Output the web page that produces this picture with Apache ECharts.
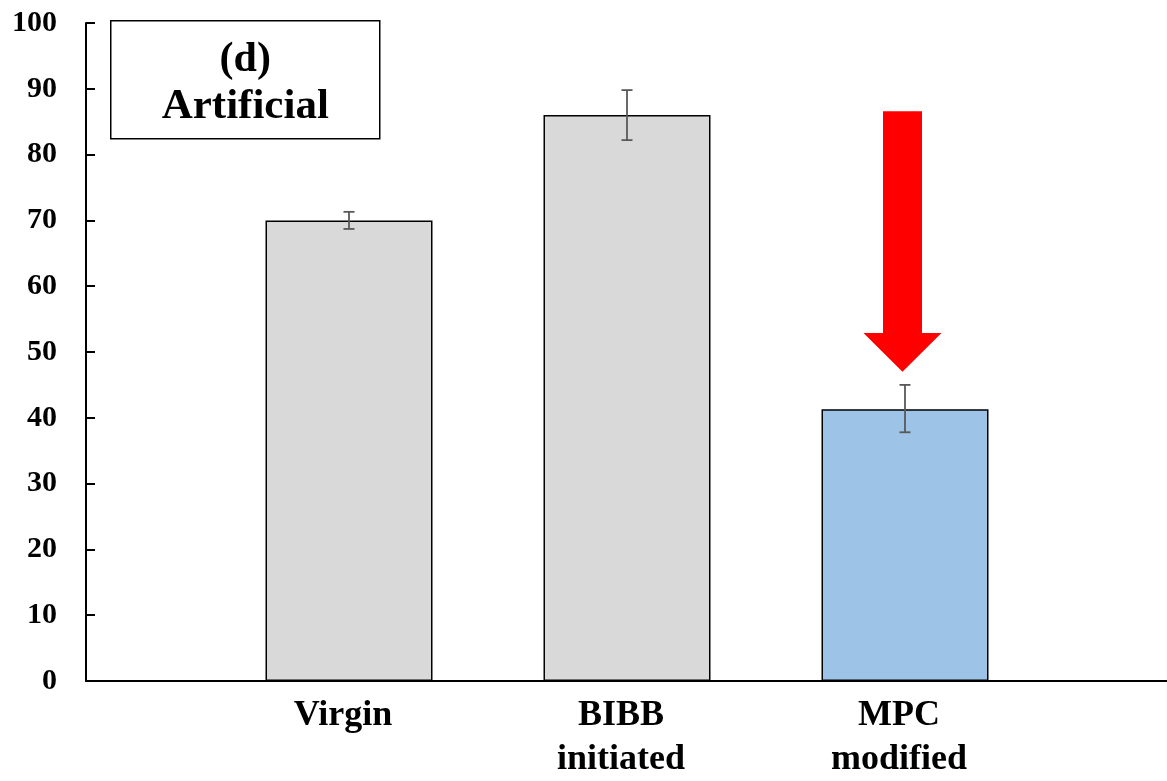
<!DOCTYPE html>
<html>
<head>
<meta charset="utf-8">
<script src="https://cdn.jsdelivr.net/npm/echarts@6/dist/echarts.min.js"></script>
<style>
  html, body { margin: 0; padding: 0; background: #fff; }
  #chart { width: 1167px; height: 781px; }
</style>
</head>
<body>
<div id="chart"></div>
<script>
// Samples and measured values (mean with upper / lower error-bar ends)
const categories = ['Virgin', 'BIBB\ninitiated', 'MPC\nmodified'];
const means = [70.0, 86.0, 41.3];
const errLow = [68.7, 82.2, 37.8];
const errHigh = [71.3, 89.8, 45.0];
const barColors = ['#d9d9d9', '#d9d9d9', '#9dc3e6'];
const yTicks = [0, 10, 20, 30, 40, 50, 60, 70, 80, 90, 100];

// Red arrow pointing down at the MPC bar: [category index, tail value, head base value, tip value]
const arrow = [[2, 86.6, 52.9, 47.0]];

const FONT = "'Liberation Serif', 'Times New Roman', serif";

const chart = echarts.init(document.getElementById('chart'));

const option = {
  animation: false,
  backgroundColor: '#ffffff',
  grid: [
    // frame grid: carries the visible axes
    { left: 86, right: 0, top: 23, bottom: 100, containLabel: false, outerBoundsMode: 'none' },
    // bar grid: category slots centered under the frame
    { left: 210, width: 834, top: 23, bottom: 100, containLabel: false, outerBoundsMode: 'none' }
  ],
  xAxis: [
    {
      gridIndex: 0, type: 'value', min: 0, max: 1,
      axisLine: { show: true, lineStyle: { color: '#000', width: 2 } },
      axisTick: { show: false }, axisLabel: { show: false }, splitLine: { show: false }
    },
    {
      gridIndex: 1, type: 'category', data: categories,
      axisLine: { show: false }, axisTick: { show: false },
      axisLabel: {
        color: '#000', fontFamily: FONT, fontWeight: 'bold', fontSize: 36,
        lineHeight: 44, margin: 13, interval: 0, padding: [0, 12, 0, 0]
      }
    }
  ],
  yAxis: [
    {
      gridIndex: 0, type: 'value', min: 0, max: 100, interval: 10,
      axisLine: { show: true, lineStyle: { color: '#000', width: 2 } },
      axisTick: { show: true, inside: true, length: 9, lineStyle: { color: '#000', width: 2 } },
      axisLabel: {
        color: '#000', fontFamily: FONT, fontWeight: 'bold', fontSize: 30, margin: 29,
        formatter: v => yTicks.includes(v) ? String(v) : ''
      },
      splitLine: { show: false }
    },
    {
      gridIndex: 1, type: 'value', min: 0, max: 100, show: false
    }
  ],
  series: [
    {
      type: 'bar', xAxisIndex: 1, yAxisIndex: 1,
      barWidth: 167,
      data: means.map((v, i) => ({
        value: v,
        itemStyle: { color: barColors[i], borderColor: '#000', borderWidth: 1.5 }
      })),
      z: 2
    },
    {
      // error bars
      type: 'custom', xAxisIndex: 1, yAxisIndex: 1, z: 3,
      data: means.map((v, i) => [i, errLow[i], errHigh[i]]),
      renderItem: (params, api) => {
        const lo = api.coord([api.value(0), api.value(1)]);
        const hi = api.coord([api.value(0), api.value(2)]);
        const half = 5.5;
        const style = { stroke: '#595959', lineWidth: 1.8 };
        return {
          type: 'group',
          children: [
            { type: 'line', shape: { x1: hi[0], y1: hi[1], x2: lo[0], y2: lo[1] }, style },
            { type: 'line', shape: { x1: hi[0] - half, y1: hi[1], x2: hi[0] + half, y2: hi[1] }, style },
            { type: 'line', shape: { x1: lo[0] - half, y1: lo[1], x2: lo[0] + half, y2: lo[1] }, style }
          ]
        };
      }
    },
    {
      // downward arrow highlighting the modified sample
      type: 'custom', xAxisIndex: 1, yAxisIndex: 1, z: 4,
      data: arrow,
      renderItem: (params, api) => {
        const tail = api.coord([api.value(0), api.value(1)]);
        const base = api.coord([api.value(0), api.value(2)]);
        const tip = api.coord([api.value(0), api.value(3)]);
        const cx = tail[0] - 2.5;
        const sw = 19.5, hw = 39;
        return {
          type: 'polygon',
          shape: {
            points: [
              [cx - sw, tail[1]], [cx + sw, tail[1]], [cx + sw, base[1]],
              [cx + hw, base[1]], [cx, tip[1]], [cx - hw, base[1]],
              [cx - sw, base[1]]
            ]
          },
          style: { fill: '#ff0000' }
        };
      }
    }
  ],
  graphic: [
    {
      type: 'group', left: 110, top: 20,
      children: [
        {
          type: 'rect', shape: { x: 0, y: 0, width: 269, height: 118 },
          style: { fill: '#fff', stroke: '#000', lineWidth: 1.5 }
        },
        {
          type: 'text', x: 134.5, y: 39,
          style: {
            text: '(d)', fill: '#000', font: 'bold 42px ' + FONT,
            textAlign: 'center', textVerticalAlign: 'middle'
          }
        },
        {
          type: 'text', x: 134.5, y: 86,
          style: {
            text: 'Artificial', fill: '#000', font: 'bold 43px ' + FONT,
            textAlign: 'center', textVerticalAlign: 'middle'
          }
        }
      ]
    }
  ]
};

chart.setOption(option);
</script>
</body>
</html>
